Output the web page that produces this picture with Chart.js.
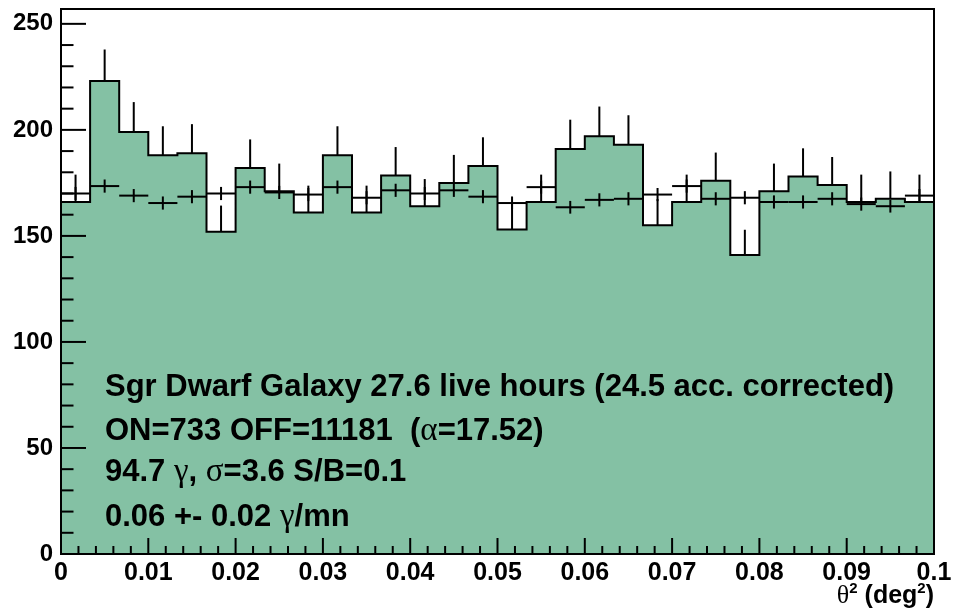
<!DOCTYPE html>
<html><head><meta charset="utf-8">
<script src="https://cdn.jsdelivr.net/npm/chart.js@4"></script>
<style>html,body{margin:0;padding:0;background:#fff}canvas{display:block}</style>
</head><body>
<canvas id="c" width="954" height="615"></canvas>
<script>
// ---- data ----
const xRange = [0, 0.1];
const yRange = [0, 257];
const onCounts  = [166, 223, 199, 188, 189, 152, 182, 171, 161, 188,
                   161, 178.5, 164, 175, 183, 153, 166, 191, 197, 193,
                   155, 166, 176, 141, 171, 178, 174, 166, 167.5, 166];
const onErrors  = [12.9, 14.9, 14.1, 13.7, 13.7, 12.3, 13.5, 13.1, 12.7, 13.7,
                   12.7, 13.4, 12.8, 13.2, 13.5, 12.4, 12.9, 13.8, 14.0, 13.9,
                   12.4, 12.9, 13.3, 11.9, 13.1, 13.3, 13.2, 12.9, 12.9, 12.9];
const offCounts = [170, 173.5, 169, 165.5, 168.5, 170, 173, 170.5, 169.5, 173,
                   168, 171.5, 170, 171.5, 168.5, 165.5, 173, 163.5, 167, 167.5,
                   169.5, 173.5, 167.5, 168, 166, 166, 167.5, 165, 164, 169];
const offErrors = [3.1, 3.1, 3.1, 3.1, 3.1, 3.1, 3.1, 3.1, 3.1, 3.1,
                   3.1, 3.1, 3.1, 3.1, 3.1, 3.1, 3.1, 3.0, 3.1, 3.1,
                   3.1, 3.1, 3.1, 3.1, 3.1, 3.1, 3.1, 3.1, 3.0, 3.1];
const xTickValues = [0, 0.01, 0.02, 0.03, 0.04, 0.05, 0.06, 0.07, 0.08, 0.09, 0.1];
const xTickLabels = ['0', '0.01', '0.02', '0.03', '0.04', '0.05', '0.06', '0.07', '0.08', '0.09', '0.1'];
const yTickValues = [0, 50, 100, 150, 200, 250];
const yTickLabels = ['0', '50', '100', '150', '200', '250'];
const infoLines = [
  [{t: 'Sgr Dwarf Galaxy 27.6 live hours (24.5 acc. corrected)'}],
  [{t: 'ON=733 OFF=11181  ('}, {t: 'α', g: true}, {t: '=17.52)'}],
  [{t: '94.7 '}, {t: 'γ', g: true}, {t: ', '}, {t: 'σ', g: true}, {t: '=3.6 S/B=0.1'}],
  [{t: '0.06 +- 0.02 '}, {t: 'γ', g: true}, {t: '/mn'}]
];

// ---- drawing ----
const FILL = '#84c1a4';
const SANS = '"Liberation Sans", Arial, sans-serif';
const SERIF = '"Liberation Serif", "DejaVu Serif", serif';
const binWidth = (xRange[1] - xRange[0]) / onCounts.length;
const histPoints = onCounts.map((v, i) => ({x: xRange[0] + i * binWidth, y: v}))
  .concat([{x: xRange[1], y: onCounts[onCounts.length - 1]}]);

function segFont(s, size) { return s.font || (s.g ? `${size + 2}px ${SERIF}` : `bold ${size}px ${SANS}`); }
function segWidth(ctx, segs, size) {
  let w = 0;
  segs.forEach(s => { ctx.font = segFont(s, size); w += ctx.measureText(s.t).width; });
  return w;
}
function drawSegs(ctx, x, y, segs, size) {
  segs.forEach(s => {
    ctx.font = segFont(s, size);
    ctx.fillText(s.t, x, y + (s.dy || 0));
    x += ctx.measureText(s.t).width;
  });
}

const overlay = {
  id: 'overlay',
  afterDatasetsDraw(chart) {
    const {ctx, chartArea: ca, scales: {x, y}} = chart;
    ctx.save();
    ctx.strokeStyle = '#000';
    ctx.lineWidth = 2;
    ctx.beginPath();
    ctx.rect(ca.left, ca.top, ca.right - ca.left, ca.bottom - ca.top);
    ctx.clip();
    const seg = (x1, y1, x2, y2) => { ctx.beginPath(); ctx.moveTo(x1, y1); ctx.lineTo(x2, y2); ctx.stroke(); };
    // ON upper error bars
    onCounts.forEach((v, i) => {
      const xc = x.getPixelForValue(xRange[0] + (i + 0.5) * binWidth);
      seg(xc, y.getPixelForValue(v), xc, y.getPixelForValue(v + onErrors[i]));
    });
    // OFF (normalised) crosses
    offCounts.forEach((v, i) => {
      const xl = x.getPixelForValue(xRange[0] + i * binWidth);
      const xr = x.getPixelForValue(xRange[0] + (i + 1) * binWidth);
      const xc = (xl + xr) / 2;
      const yc = y.getPixelForValue(v);
      seg(xl, yc, xr, yc);
      seg(xc, y.getPixelForValue(v - offErrors[i]), xc, y.getPixelForValue(v + offErrors[i]));
    });
    // inner ticks
    for (let k = 0; k <= 50; k++) {
      const px = x.getPixelForValue(k * 0.002);
      const len = k % 5 === 0 ? 16 : 8;
      seg(px, ca.bottom, px, ca.bottom - len);
    }
    for (let k = 0; k <= 25; k++) {
      const py = y.getPixelForValue(k * 10);
      const len = k % 5 === 0 ? 25 : 12.5;
      seg(ca.left, py, ca.left + len, py);
    }
    ctx.restore();
    // frame
    ctx.save();
    ctx.strokeStyle = '#000';
    ctx.lineWidth = 2;
    ctx.strokeRect(ca.left, ca.top, ca.right - ca.left, ca.bottom - ca.top);
    // info text
    ctx.fillStyle = '#000';
    ctx.textBaseline = 'alphabetic';
    ctx.textAlign = 'left';
    const baselines = [396, 440, 481, 526];
    infoLines.forEach((segs, i) => drawSegs(ctx, 105, baselines[i], segs, 31));
    // x axis title
    const tsegs = [
      {t: 'θ', font: `26px ${SERIF}`},
      {t: '2', font: `bold 15px ${SANS}`, dy: -10},
      {t: ' (deg', font: `bold 25px ${SANS}`},
      {t: '2', font: `bold 15px ${SANS}`, dy: -10},
      {t: ')', font: `bold 25px ${SANS}`}
    ];
    const tw = segWidth(ctx, tsegs, 25);
    drawSegs(ctx, ca.right - tw, 603, tsegs, 25);
    ctx.restore();
  }
};

new Chart(document.getElementById('c'), {
  type: 'line',
  data: {
    datasets: [{
      data: histPoints,
      stepped: 'before',
      fill: 'origin',
      backgroundColor: FILL,
      borderColor: '#000',
      borderWidth: 2,
      pointRadius: 0,
      tension: 0
    }]
  },
  options: {
    responsive: false,
    animation: false,
    devicePixelRatio: 1,
    layout: {padding: {left: 0, right: 20, top: 9, bottom: 0}},
    plugins: {legend: {display: false}, tooltip: {enabled: false}},
    scales: {
      x: {
        type: 'linear', min: xRange[0], max: xRange[1],
        grid: {display: false, drawTicks: false},
        border: {display: false},
        afterBuildTicks: s => { s.ticks = xTickValues.map(v => ({value: v})); },
        afterFit: s => { s.height = 61; s.paddingLeft = 0; s.paddingRight = 0; },
        ticks: {font: {family: SANS, size: 25, weight: 'bold'}, color: '#000', padding: 4,
                maxRotation: 0, autoSkip: false, callback: (v, i) => xTickLabels[i]}
      },
      y: {
        type: 'linear', min: yRange[0], max: yRange[1],
        grid: {display: false, drawTicks: false},
        border: {display: false},
        afterBuildTicks: s => { s.ticks = yTickValues.map(v => ({value: v})); },
        afterFit: s => { s.width = 61; s.paddingTop = 0; s.paddingBottom = 0; },
        ticks: {font: {family: SANS, size: 24, weight: 'bold'}, color: '#000', padding: 8,
                autoSkip: false, callback: (v, i) => yTickLabels[i]}
      }
    }
  },
  plugins: [overlay]
});
</script>
</body></html>
